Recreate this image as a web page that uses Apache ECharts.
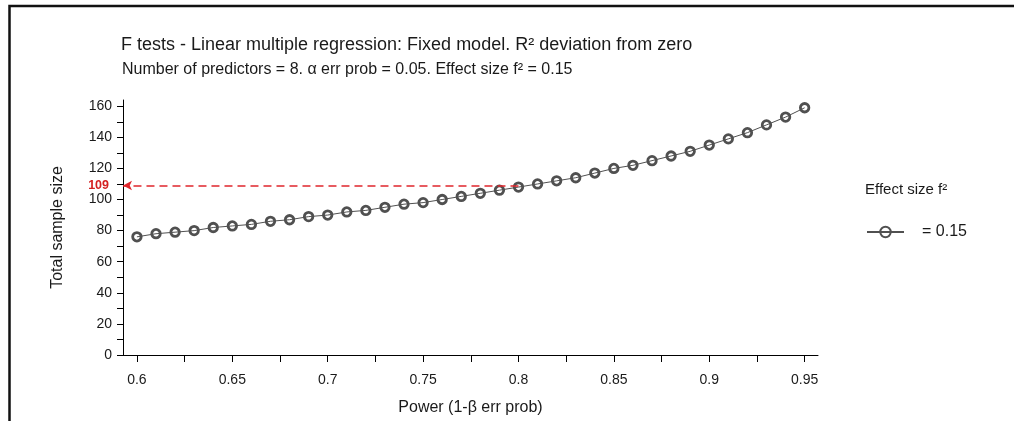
<!DOCTYPE html>
<html><head><meta charset="utf-8">
<script src="https://cdn.jsdelivr.net/npm/echarts@6/dist/echarts.min.js"></script>
<style>html,body{margin:0;padding:0;background:#fff}#c{width:1014px;height:421px}</style>
</head><body><div id="c"></div>
<script>
const titleText = 'F tests - Linear multiple regression: Fixed model. R² deviation from zero';
const subtitleText = 'Number of predictors = 8. α err prob = 0.05. Effect size f² = 0.15';
const xAxisName = 'Power (1-β err prob)';
const yAxisName = 'Total sample size';
const legendTitle = 'Effect size f²';
const seriesName = '= 0.15';
const power = [0.60,0.61,0.62,0.63,0.64,0.65,0.66,0.67,0.68,0.69,0.70,0.71,0.72,0.73,0.74,0.75,0.76,0.77,0.78,0.79,0.80,0.81,0.82,0.83,0.84,0.85,0.86,0.87,0.88,0.89,0.90,0.91,0.92,0.93,0.94,0.95];
const sampleSize = [76,78,79,80,82,83,84,86,87,89,90,92,93,95,97,98,100,102,104,106,108,110,112,114,117,120,122,125,128,131,135,139,143,148,153,159];
const xLabelValues = [0.6,0.65,0.7,0.75,0.8,0.85,0.9,0.95];
const xTickValues = [0.6,0.625,0.65,0.675,0.7,0.725,0.75,0.775,0.8,0.825,0.85,0.875,0.9,0.925,0.95];
const yLabelValues = [0,20,40,60,80,100,120,140,160];
const yTickValues = [0,10,20,30,40,50,60,70,80,90,100,110,120,130,140,150,160];
const refPower = 0.8;
const refSample = 109;
const xMin = 0.5927, xMax = 0.957, yMin = 0, yMax = 164;

const font = 'Arial, "Liberation Sans", sans-serif';
const ink = '#1a1a1a';
const chart = echarts.init(document.getElementById('c'), null, {renderer: 'canvas'});
chart.setOption({
  backgroundColor: '#fff',
  animation: false,
  textStyle: {fontFamily: font},
  graphic: [{type: 'rect', shape: {x: 9.5, y: 6, width: 1100, height: 500}, style: {fill: 'none', stroke: '#111', lineWidth: 2.5}, silent: true}],
  title: [
    {text: titleText, left: 121, top: 36, padding: 0, textStyle: {fontSize: 18, fontWeight: 'normal', color: ink, fontFamily: font}},
    {text: subtitleText, left: 122, top: 62, padding: 0, textStyle: {fontSize: 16, fontWeight: 'normal', color: ink, fontFamily: font}},
    {text: legendTitle, left: 865, top: 182, padding: 0, textStyle: {fontSize: 15, fontWeight: 'normal', color: ink, fontFamily: font}}
  ],
  legend: {
    left: 866, top: 224, padding: 0, itemWidth: 37, itemHeight: 13,
    data: [seriesName],
    textStyle: {fontSize: 16, color: ink, fontFamily: font, padding: [0, 0, 0, 13]}
  },
  grid: {left: 123, right: 196, top: 100, bottom: 66, containLabel: false},
  xAxis: {
    type: 'value', min: xMin, max: xMax,
    name: xAxisName, nameLocation: 'middle', nameGap: 45,
    nameTextStyle: {fontSize: 16, color: ink, fontFamily: font},
    axisLine: {show: true, lineStyle: {color: '#000', width: 1}},
    axisTick: {show: true, inside: false, length: 7, customValues: xTickValues, lineStyle: {color: '#000'}},
    axisLabel: {customValues: xLabelValues, fontSize: 14, color: ink, margin: 18, fontFamily: font, formatter: v => String(+v.toFixed(2))},
    splitLine: {show: false}
  },
  yAxis: {
    type: 'value', min: yMin, max: yMax,
    name: yAxisName, nameLocation: 'middle', nameGap: 57,
    nameTextStyle: {fontSize: 16, color: ink, fontFamily: font},
    axisLine: {show: true, lineStyle: {color: '#000', width: 1}},
    axisTick: {show: true, inside: false, length: 6, customValues: yTickValues, lineStyle: {color: '#000'}},
    axisLabel: {customValues: yLabelValues, fontSize: 14, color: ink, margin: 11, fontFamily: font},
    splitLine: {show: false}
  },
  series: [{
    name: seriesName,
    type: 'line',
    data: power.map((p, i) => [p, sampleSize[i]]),
    symbol: 'circle', symbolSize: 8.5,
    clip: false,
    lineStyle: {color: '#505050', width: 1},
    itemStyle: {color: 'rgba(255,255,255,0)', borderColor: '#505050', borderWidth: 2.8},
    markLine: {
      silent: true,
      symbol: ['none', 'arrow'], symbolSize: [7, 9],
      lineStyle: {color: '#e0262c', type: [8, 5], width: 1.6},
      label: {show: true, position: 'end', formatter: String(refSample), color: '#d42020', fontWeight: 'bold', fontSize: 12.5, fontFamily: font, distance: 14},
      emphasis: {disabled: true},
      data: [[{coord: [refPower, refSample]}, {coord: [xMin, refSample]}]]
    }
  }]
});
</script></body></html>
